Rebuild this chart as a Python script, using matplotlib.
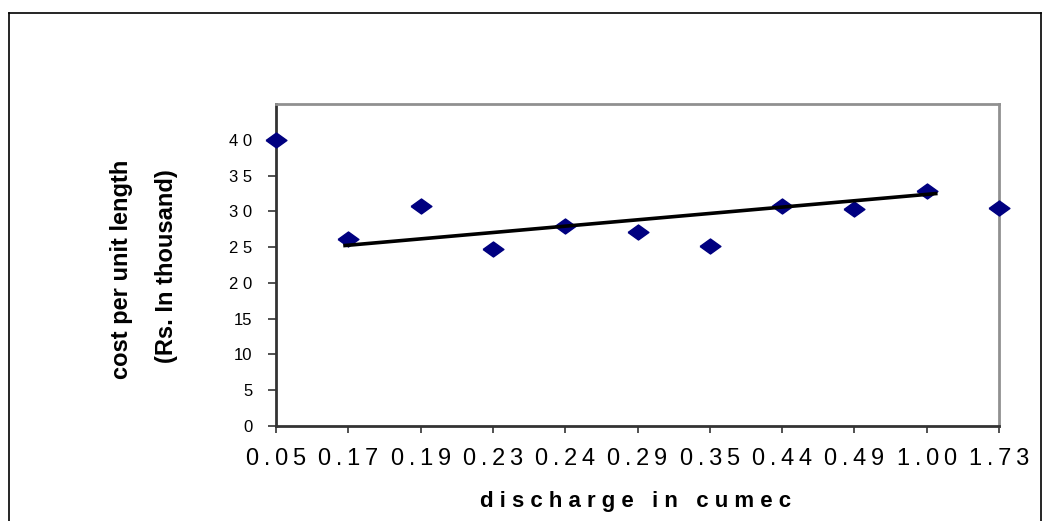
import matplotlib
matplotlib.use("Agg")
import matplotlib.pyplot as plt
from matplotlib.lines import Line2D

categories = ["0.05", "0.17", "0.19", "0.23", "0.24", "0.29", "0.35", "0.44", "0.49", "1.00", "1.73"]
cost = [40.0, 26.1, 30.7, 24.7, 27.9, 27.1, 25.2, 30.7, 30.3, 32.9, 30.4]
trend_x = [0.93, 9.15]
trend_y = [25.2, 32.5]
yticks = [0, 5, 10, 15, 20, 25, 30, 35, 40]
ytick_labels = ["0", "5", "10", "15", "2 0", "2 5", "3 0", "3 5", "4 0"]

plt.rcParams['font.family'] = ['Liberation Sans', 'DejaVu Sans']

W, H = 1045, 521
fig = plt.figure(figsize=(W / 100, H / 100), dpi=100)
ax = fig.add_axes([276 / W, 1 - 426 / H, 723 / W, 322 / H])

x = list(range(len(categories)))
diamond = [(-1, 0), (0, 0.72), (1, 0), (0, -0.72), (-1, 0)]
ax.plot(x, cost, linestyle='none', marker=diamond, markersize=15,
        color='#000080', clip_on=False, zorder=3)
ax.plot(trend_x, trend_y, color='black', linewidth=2.6, solid_capstyle='butt', zorder=4)

ax.set_xlim(0, len(categories) - 1)
ax.set_ylim(0, 45)
ax.set_xticks(x)
ax.set_xticklabels(["\u2009".join(c) for c in categories], fontsize=17)
ax.set_yticks(yticks)
ax.set_yticklabels(ytick_labels, fontsize=12)

for s in ['left', 'bottom']:
    ax.spines[s].set_color('#333333')
    ax.spines[s].set_linewidth(2)
for s in ['top', 'right']:
    ax.spines[s].set_color('#909090')
    ax.spines[s].set_linewidth(2)
ax.tick_params(axis='y', direction='out', length=6, width=1.2, color='#333333', pad=11)
ax.tick_params(axis='x', direction='out', length=5, width=1.2, color='#333333', pad=11)

fig.text(636 / W, 1 - 507 / H, "d i s c h a r g e   i n   c u m e c", fontsize=16,
         fontweight='bold', ha='center', va='baseline')
fig.text(128 / W, 1 - 269 / H, "cost per unit length", rotation=90, rotation_mode='anchor',
         fontsize=17, fontweight='bold', ha='center', va='baseline')
fig.text(173 / W, 1 - 266 / H, "(Rs. In thousand)", rotation=90, rotation_mode='anchor',
         fontsize=17, fontweight='bold', ha='center', va='baseline')

# outer chart frame
for xs, ys in [([9, 9], [521, 13]), ([9, 1041], [13, 13]), ([1041, 1041], [13, 521])]:
    fig.add_artist(Line2D([v / W for v in xs], [1 - v / H for v in ys], color='black',
                          linewidth=1.2, transform=fig.transFigure))

fig.savefig("out.png", dpi=100)
